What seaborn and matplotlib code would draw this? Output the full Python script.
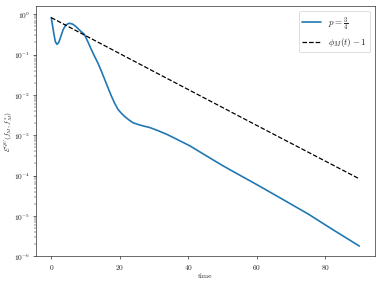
import numpy as np
import pandas as pd
import matplotlib
matplotlib.use("Agg")
import matplotlib.pyplot as plt
import seaborn as sns

sns.set_style("ticks")
plt.rcParams["font.family"] = ["serif"]
plt.rcParams["font.serif"] = ["cmr10", "DejaVu Serif"]
plt.rcParams["mathtext.fontset"] = "cm"
plt.rcParams["axes.formatter.use_mathtext"] = True

# blue curve: time and error values
t_err = [0, 0.4, 0.8, 1.2, 1.7, 2.2, 2.8, 3.5, 4.3, 5.3, 6.3, 7.3, 8.5, 9.7,
         10.7, 11.7, 12.6, 13.6, 14.6, 15.6, 16.6, 17.6, 18.5, 19.5, 20.5,
         21.5, 22.7, 23.9, 26.0, 28.8, 31.0, 33.8, 37.0, 40.6, 45, 50, 55,
         60, 67, 75, 82, 90]
err = [0.83, 0.52, 0.32, 0.21, 0.18, 0.2, 0.28, 0.42, 0.55, 0.6, 0.57, 0.49,
       0.39, 0.316, 0.21, 0.135, 0.093, 0.063, 0.04, 0.0245, 0.015, 0.0093,
       0.0063, 0.0044, 0.0035, 0.0029, 0.0024, 0.00204, 0.00178, 0.00155,
       0.00132, 0.00105, 0.00077, 0.00054, 0.00032, 0.000178, 0.000103,
       6.0e-5, 2.75e-5, 1.12e-5, 4.7e-6, 1.78e-6]

# dashed reference line
t_ref = [0, 30, 60, 90]
ref = [0.83, 0.038, 0.00176, 8.3e-5]

df1 = pd.DataFrame({"time": t_err, "val": err})
df2 = pd.DataFrame({"time": t_ref, "val": ref})

fig = plt.figure(figsize=(6.4, 4.8), dpi=59.5)
ax = fig.add_axes([0.094, 0.101, 0.89, 0.875])
sns.lineplot(data=df1, x="time", y="val", ax=ax, color="#1f77b4", lw=2,
             label=r"$p=\frac{3}{4}$")
sns.lineplot(data=df2, x="time", y="val", ax=ax, color="black", lw=1.5,
             ls="--", label=r"$\phi_M(t)-1$")
ax.set_yscale("log")
ax.set_ylim(1e-6, 10 ** 0.2)
ax.set_xlim(-4.5, 94.5)
ax.tick_params(labelsize=9)
ax.tick_params(which="minor", labelleft=False, labelbottom=False)
ax.xaxis.offsetText.set_visible(False)
ax.yaxis.offsetText.set_visible(False)
ax.set_xlabel("time", fontsize=9, labelpad=2)
ax.set_ylabel(r"$\mathcal{E}^{QU}(f_M, f_M^{s})$", fontsize=9)
ax.yaxis.set_label_coords(-0.062, 0.5)
ax.legend(loc="upper right", fontsize=11)
fig.savefig("out.png", dpi=59.5)
